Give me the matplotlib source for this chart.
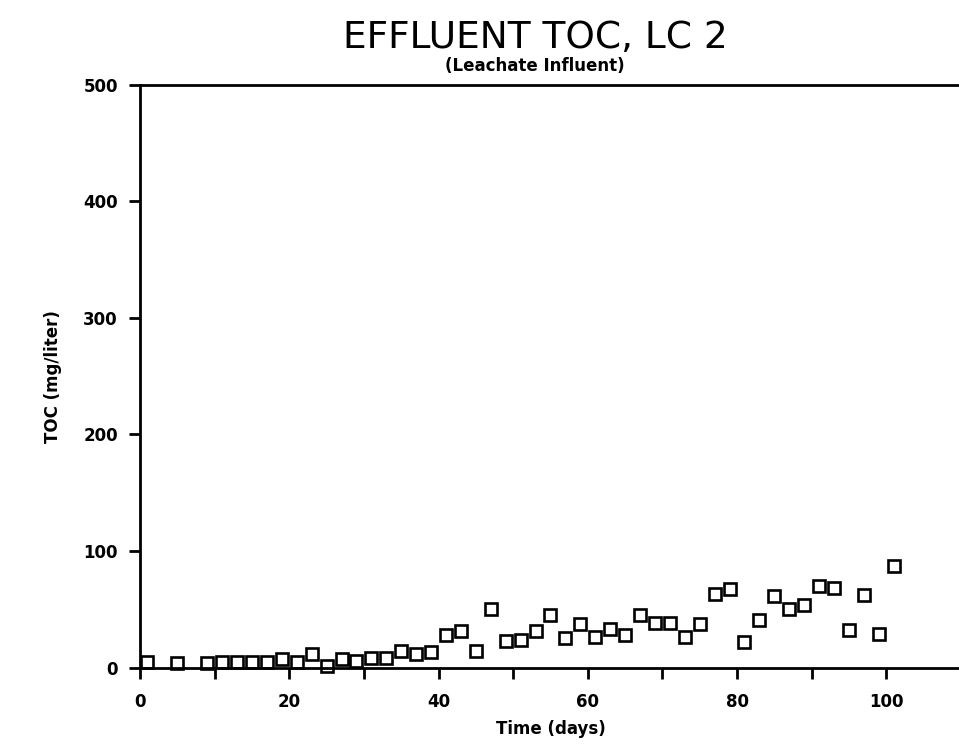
import matplotlib
matplotlib.use("Agg")
import matplotlib.pyplot as plt

# effluent TOC readings, column LC 2 (leachate influent)
days = [1, 5, 9, 11, 13, 15, 17, 19, 21, 23, 25, 27, 29, 31, 33, 35, 37, 39,
        41, 43, 45, 47, 49, 51, 53, 55, 57, 59, 61, 63, 65, 67, 69, 71, 73, 75,
        77, 79, 81, 83, 85, 87, 89, 91, 93, 95, 97, 99, 101]
toc = [5, 4, 4, 5, 5, 5, 5, 7, 5, 12, 1, 7, 6, 8, 8, 14, 12, 13,
       28, 31, 14, 50, 23, 24, 31, 45, 25, 37, 26, 33, 28, 45, 38, 38, 26, 37,
       63, 67, 22, 41, 61, 50, 54, 70, 68, 32, 62, 29, 87]

xticks = [0, 20, 40, 60, 80, 100]
yticks = [0, 100, 200, 300, 400, 500]

fig = plt.figure(figsize=(9.59, 7.45), dpi=100)
ax = fig.add_axes([0.146, 0.104, 0.856, 0.782])

ax.plot(days, toc, linestyle="none", marker="s", markersize=8,
        markerfacecolor="white", markeredgecolor="black", markeredgewidth=1.9,
        clip_on=False)

ax.set_xlim(0, 110)
ax.set_ylim(0, 500)
ax.set_xticks(xticks)
ax.set_xticks(range(10, 110, 20), minor=True)
ax.set_yticks(yticks)

for s in ax.spines.values():
    s.set_linewidth(2)
ax.tick_params(which="both", direction="out", length=8, width=2)
ax.tick_params(axis="x", pad=10)
ax.tick_params(axis="y", pad=8)
for lab in ax.get_xticklabels() + ax.get_yticklabels():
    lab.set_fontweight("bold")
    lab.set_fontsize(12)

ax.set_xlabel("Time (days)", fontsize=12, fontweight="bold", labelpad=7)
ax.set_ylabel("TOC (mg/liter)", fontsize=12, fontweight="bold", labelpad=15)

fig.text(0.558, 0.935, "EFFLUENT TOC, LC 2", ha="center", va="baseline",
         fontsize=27, family="DejaVu Sans", fontweight="normal")
fig.text(0.558, 0.911, "(Leachate Influent)", ha="center", va="center",
         fontsize=12, fontweight="bold")

fig.savefig("out.png", dpi=100)
